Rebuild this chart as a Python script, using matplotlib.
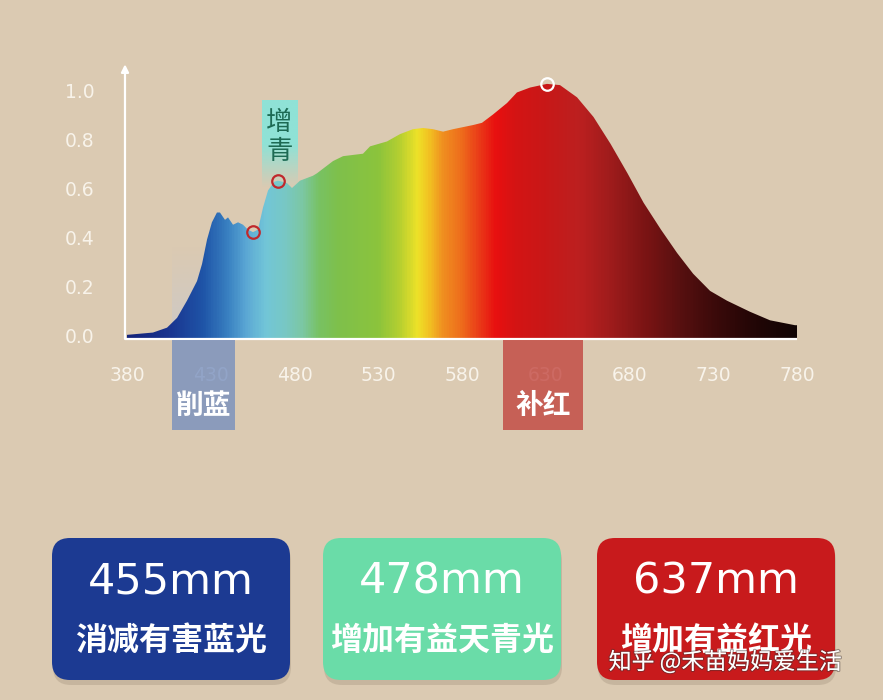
import numpy as np
import matplotlib
matplotlib.use('Agg')
import matplotlib.pyplot as plt
from matplotlib.colors import LinearSegmentedColormap, to_rgb
from matplotlib.patches import Polygon, FancyBboxPatch, Rectangle
import matplotlib.patheffects as pe

plt.rcParams['font.family'] = ['DejaVu Sans', 'Noto Sans CJK SC']
CJK = ['Noto Sans CJK SC', 'DejaVu Sans']

# ---------------- data ----------------
wavelength = [379, 395.5, 403.9, 409.9, 415.8, 421.8, 424.8, 427.8, 430.7, 433.7,
              435.5, 438.5, 440.3, 443.3, 446.3, 449.3, 452.2, 455.2, 458.2, 461.2,
              464.2, 467.8, 470.1, 473.1, 475.5, 478.5, 483.3, 491.0, 493.4, 503.0,
              509.0, 520.9, 525.1, 535.2, 543.0, 550.7, 556.7, 562.7, 568.7, 574.6,
              586.6, 591.9, 598.5, 606.9, 612.8, 620.6, 630.7, 638.5, 648.7, 658.5,
              668.7, 678.8, 688.4, 698.8, 708.4, 718.0, 728.1, 738.2, 751.9, 763.9,
              778.8, 780]
intensity = [0.0, 0.01, 0.03, 0.07, 0.14, 0.22, 0.29, 0.39, 0.46, 0.50,
             0.50, 0.47, 0.48, 0.45, 0.46, 0.45, 0.43, 0.42, 0.43, 0.52,
             0.59, 0.625, 0.63, 0.625, 0.62, 0.60, 0.63, 0.65, 0.66, 0.71,
             0.73, 0.74, 0.77, 0.79, 0.82, 0.84, 0.845, 0.84, 0.83, 0.84,
             0.857, 0.866, 0.90, 0.947, 0.99, 1.01, 1.025, 1.02, 0.97, 0.89,
             0.78, 0.66, 0.54, 0.43, 0.335, 0.25, 0.18, 0.14, 0.095, 0.06,
             0.04, 0.04]
x_ticks = [380, 430, 480, 530, 580, 630, 680, 730, 780]
y_ticks = [0.0, 0.2, 0.4, 0.6, 0.8, 1.0]
cut_blue_range = (407.0, 444.5)
add_red_range = (604.5, 652.2)
cut_blue_label = '削蓝'
add_red_label = '补红'
cyan_label = ['增', '青']
marker_wl = [455.2, 470.1, 630.7]
marker_val = [0.42, 0.63, 1.025]
marker_colors = ['#c0282c', '#c0282c', '#ffffff']
card_values = ['455mm', '478mm', '637mm']
card_texts = ['消减有害蓝光', '增加有益天青光', '增加有益红光']
card_colors = ['#1c3a92', '#6adca8', '#c81a1c']
watermark = '知乎 @禾苗妈妈爱生活'

# spectrum colour stops (style)
stops = [(380, '#14237a'), (405, '#1a3590'), (425, '#1f55a8'), (440, '#3a82c2'),
         (450, '#5aa6d4'), (462, '#72c6d8'), (474, '#78c8c4'), (484, '#7cc7a4'),
         (494, '#78c264'), (505, '#7ec04c'), (530, '#8cc43c'), (543, '#b8d030'),
         (553, '#eee228'), (560, '#f2c222'), (568, '#f09020'), (580, '#ee6a1c'),
         (590, '#ea3a18'), (600, '#e81010'), (612, '#d41414'), (630, '#c81818'),
         (650, '#bc2020'), (668, '#a01c1c'), (690, '#7a1414'), (710, '#581010'),
         (732, '#3a0a0a'), (755, '#220606'), (780, '#100404')]

BG = '#dbcab2'
W, H = 883, 700
fig = plt.figure(figsize=(W / 100, H / 100), dpi=100, facecolor=BG)

# main axes (pixel box: left 110, right 810, top 55, bottom 345)
ax = fig.add_axes([110 / W, (H - 345) / H, 700 / W, 290 / H])
ax.set_facecolor('none')
ax.set_xlim(369.85, 787.76)
ax.set_ylim(-0.0408, 1.1429)
for s in ax.spines.values():
    s.set_visible(False)

base = -0.016
lo, hi = stops[0][0], stops[-1][0]
cmap = LinearSegmentedColormap.from_list(
    'spec', [((w - lo) / (hi - lo), c) for w, c in stops])
grad = np.linspace(0, 1, 800).reshape(1, -1)
im = ax.imshow(grad, cmap=cmap, aspect='auto', interpolation='bilinear',
               extent=[lo, hi, base, 1.1], zorder=2, origin='lower')
verts = [(wavelength[0], base)] + list(zip(wavelength, intensity)) + [(wavelength[-1], base)]
poly = Polygon(verts, closed=True, facecolor='none', edgecolor='none', transform=ax.transData)
ax.add_patch(poly)
im.set_clip_path(poly)

# faint blue haze above the 削蓝 band (behind the spectrum)
haze = np.zeros((100, 1, 4))
haze[..., :3] = to_rgb('#c4c8d4')
haze[:, 0, 3] = np.linspace(0.6, 0.0, 100)
ax.imshow(haze, aspect='auto', extent=[cut_blue_range[0], cut_blue_range[1], base, 0.36],
          origin='lower', zorder=1.5, interpolation='bilinear')

# axes lines
ax.plot([378.8, 780], [base, base], color='white', lw=1.6, zorder=4, solid_capstyle='butt')
ax.annotate('', xy=(378.8, 1.105), xytext=(378.8, base),
            arrowprops=dict(arrowstyle='-|>', color='white', lw=1.6,
                            mutation_scale=11, shrinkA=0, shrinkB=0), zorder=4)

# ticks
ax.set_xticks(x_ticks)
ax.set_xticklabels([str(t) for t in x_ticks])
ax.set_yticks(y_ticks)
ax.set_yticklabels(['%.1f' % t for t in y_ticks])
ax.tick_params(axis='x', length=0, pad=15, labelsize=13.5, labelcolor='#f8f3ea')
ax.tick_params(axis='y', length=0, pad=11, labelsize=13.5, labelcolor='#f8f3ea')

# bands below the axis
vb_top, vb_bot = -0.0204, -0.388
ax.add_patch(Rectangle((cut_blue_range[0], vb_bot), cut_blue_range[1] - cut_blue_range[0],
                       vb_top - vb_bot, facecolor='#758ebe', alpha=0.78,
                       edgecolor='none', clip_on=False, zorder=5))
ax.add_patch(Rectangle((add_red_range[0], vb_bot), add_red_range[1] - add_red_range[0],
                       vb_top - vb_bot, facecolor='#c1433d', alpha=0.78,
                       edgecolor='none', clip_on=False, zorder=5))
ax.text(sum(cut_blue_range) / 2, -0.290, cut_blue_label, family=CJK, fontsize=20,
        weight='bold', color='white', ha='center', va='center', zorder=6, clip_on=False)
ax.text(sum(add_red_range) / 2, -0.290, add_red_label, family=CJK, fontsize=20,
        weight='bold', color='white', ha='center', va='center', zorder=6, clip_on=False)

# 增青 tag
tag = np.zeros((100, 1, 4))
tag[..., :3] = to_rgb('#8fe2d6')
a = np.ones(100)
n_fade = 50
a[:n_fade] = np.linspace(0.0, 1.0, n_fade)
tag[:, 0, 3] = a
ax.imshow(tag, aspect='auto', extent=[460.6, 481.5, 0.60, 0.959], origin='lower',
          zorder=6, interpolation='bilinear')
ax.text(471.0, 0.869, cyan_label[0], family=CJK, fontsize=19, weight='medium',
        color='#1d6a54', ha='center', va='center', zorder=7)
ax.text(471.0, 0.747, cyan_label[1], family=CJK, fontsize=19, weight='medium',
        color='#1d6a54', ha='center', va='center', zorder=7)

# markers
for w, v, c in zip(marker_wl, marker_val, marker_colors):
    ax.plot([w], [v], marker='o', ms=9, mfc='none', mec=c, mew=1.6, zorder=8)

ax.set_xlim(369.85, 787.76)
ax.set_ylim(-0.0408, 1.1429)

# ---------------- cards ----------------
ax2 = fig.add_axes([0, 0, 1, 1])
ax2.set_xlim(0, W)
ax2.set_ylim(H, 0)
ax2.axis('off')
ax2.patch.set_visible(False)
card_x = [52, 323, 597]
cw, ch, ctop = 238, 142, 538
for x0, val, txt, col in zip(card_x, card_values, card_texts, card_colors):
    ax2.add_patch(FancyBboxPatch((x0 + 1, ctop + 5), cw, ch,
                                 boxstyle='round,pad=0,rounding_size=18',
                                 facecolor='#8a7a66', alpha=0.25, edgecolor='none'))
    ax2.add_patch(FancyBboxPatch((x0, ctop), cw, ch,
                                 boxstyle='round,pad=0,rounding_size=18',
                                 facecolor=col, edgecolor='none'))
    ax2.text(x0 + cw / 2, 581, val, fontsize=31, color='white', ha='center', va='center')
    ax2.text(x0 + cw / 2, 641, txt, family=CJK, fontsize=23, weight='bold',
             color='white', ha='center', va='center')

ax2.text(725, 662, watermark, family=CJK, fontsize=16.5, color='white',
         ha='center', va='center',
         path_effects=[pe.withStroke(linewidth=1.6, foreground=(0.25, 0.2, 0.2, 0.45))])

fig.savefig('out.png', dpi=100, facecolor=BG)
